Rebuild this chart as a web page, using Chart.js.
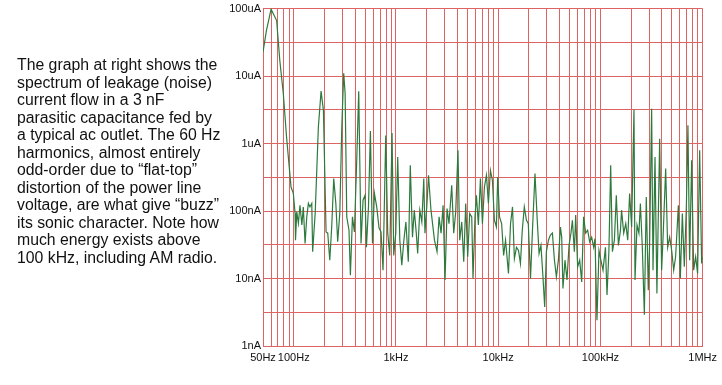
<!DOCTYPE html>
<html>
<head>
<meta charset="utf-8">
<script src="https://cdn.jsdelivr.net/npm/chart.js@4/dist/chart.umd.min.js"></script>
<style>
  html, body { margin: 0; padding: 0; background: #fff; }
  #wrap { position: relative; width: 722px; height: 385px; overflow: hidden; }
  #chart { position: absolute; left: 0; top: 0; }
  #note {
    position: absolute; left: 17px; top: 56px;
    font-family: "Liberation Sans", Arial, sans-serif;
    font-size: 15.8px; line-height: 17.5px; color: #111;
    white-space: nowrap;
  }
</style>
</head>
<body>
<div id="wrap">
  <canvas id="chart" width="722" height="385"></canvas>
  <div id="note">The graph at right shows the<br>spectrum of leakage (noise)<br>current flow in a 3 nF<br>parasitic capacitance fed by<br>a typical ac outlet. The 60 Hz<br>harmonics, almost entirely<br>odd-order due to “flat-top”<br>distortion of the power line<br>voltage, are what give “buzz”<br>its sonic character. Note how<br>much energy exists above<br>100 kHz, including AM radio.</div>
</div>
<script>
// frequency (Hz) and leakage current (nA)
const freqHz = [
  50, 54, 60, 68, 73, 79, 85, 94, 99, 103, 104, 107, 111, 115, 120, 124, 129, 134, 139, 144,
  150, 153, 162, 174, 185, 195, 207, 215, 225, 235, 246, 258, 269, 282, 295, 308, 318, 330, 347, 358,
  375, 392, 413, 432, 455, 476, 498, 514, 538, 562, 589, 615, 648, 683, 714, 747, 794, 830, 869, 915,
  951, 995, 1040, 1090, 1140, 1190, 1250, 1320, 1380, 1450, 1510, 1580, 1630, 1710, 1790, 1870, 1920, 2010, 2080, 2200,
  2380, 2520, 2640, 2760, 2890, 3020, 3160, 3300, 3510, 3670, 3840, 4040, 4200, 4400, 4600, 4810, 5030, 5260, 5510, 5670,
  5930, 6120, 6400, 6700, 7010, 7330, 7670, 8020, 8390, 8780, 9180, 9600, 9890, 10300, 10800, 11300, 11800, 12600, 13200, 13800,
  14400, 15100, 15800, 16500, 17200, 18000, 18900, 19700, 20700, 21600, 22900, 24000, 25100, 26200, 27400, 28500, 29600, 31000, 32400, 33900,
  35500, 37100, 38800, 40600, 41800, 43000, 45000, 47100, 49300, 51500, 53200, 55600, 57300, 59900, 62700, 65600, 68500, 71700, 75000, 78500,
  82100, 85900, 88500, 92500, 96800, 101000, 106000, 112000, 116000, 121000, 126000, 131000, 137000, 143000, 150000, 157000, 161000, 169000, 177000, 185000,
  193000, 202000, 213000, 218000, 228000, 238000, 246000, 257000, 269000, 281000, 294000, 303000, 317000, 327000, 342000, 357000, 380000, 397000, 409000, 435000,
  455000, 476000, 498000, 521000, 544000, 579000, 605000, 633000, 662000, 693000, 718000, 746000, 781000, 817000, 854000, 893000, 935000, 978000, 1000000
];
const currentNA = [
  22600, 47300, 98000, 66400, 17000, 5530, 1250, 227, 183, 93, 37, 97, 66, 122, 62, 115, 33, 82, 130, 115,
  130, 25, 93, 1750, 5980, 3100, 49, 47, 18.7, 58, 303, 129, 35, 93, 1750, 11000, 5530, 82, 52, 11.2,
  82, 49, 564, 5980, 33, 145, 171, 29, 115, 1530, 33, 183, 115, 56, 49, 13.3, 1320, 47, 22, 1430,
  22, 47, 631, 37, 15.8, 35, 69, 17.7, 476, 41, 103, 47, 23.5, 103, 69, 303, 47, 129, 339, 103,
  37, 25, 82, 47, 122, 9.5, 109, 65, 241, 47, 97, 793, 37, 69, 17.7, 129, 21, 92, 82, 10,
  82, 171, 62, 303, 65, 227, 339, 129, 402, 286, 73, 58, 319, 82, 65, 22, 37, 11.9, 65, 115,
  19.8, 29, 26, 16.7, 52, 115, 73, 65, 10, 49, 359, 82, 23.5, 31, 10.6, 3.8, 25, 37, 44, 47,
  18.7, 10.6, 18.7, 58, 41, 7.1, 18.7, 9.5, 31, 47, 73, 25, 87, 14.9, 18.7, 8.9, 82, 47, 52, 35,
  41, 29, 39, 2.4, 26, 18.7, 13.3, 29, 5.7, 25, 476, 25, 37, 171, 31, 52, 103, 47, 65, 37,
  182, 58, 3170, 9.5, 62, 47, 129, 29, 2.9, 162, 6.7, 33, 3280, 13.3, 631, 6.0, 1180, 13.3, 37, 425,
  29, 41, 26, 13.3, 21, 122, 10, 92, 14.9, 115, 1860, 18.7, 564, 13.3, 21, 11.9, 793, 16.7, 21
];

// axis labels
const xLabelValues = [50, 100, 1000, 10000, 100000, 1000000];
const xLabelText = ['50Hz', '100Hz', '1kHz', '10kHz', '100kHz', '1MHz'];
const yLabelValues = [1, 10, 100, 1000, 10000, 100000];
const yLabelText = ['1nA', '10nA', '100nA', '1uA', '10uA', '100uA'];

// grid: 1..9 per decade on x, half decades on y
const xGridSteps = [1, 2, 3, 4, 5, 6, 7, 8, 9];
const yGridSteps = [1, Math.sqrt(10)];

const xGrid = [];
for (let e = 1; e <= 6; e++) {
  xGridSteps.forEach(s => {
    const v = s * Math.pow(10, e);
    if (v >= 50 && v <= 1000000) xGrid.push(v);
  });
}
const yGrid = [];
for (let e = 0; e <= 5; e++) {
  yGridSteps.forEach(s => {
    const v = s * Math.pow(10, e);
    if (v <= 100000) yGrid.push(v);
  });
}

const gridColor = 'rgb(222, 100, 100)';
const tickFont = { family: '"Liberation Sans", Arial, sans-serif', size: 11 };

function labelFor(values, texts, v) {
  const i = values.findIndex(t => Math.abs(t - v) / t < 1e-6);
  return i >= 0 ? texts[i] : '';
}

new Chart(document.getElementById('chart'), {
  type: 'line',
  data: {
    datasets: [{
      data: freqHz.map((f, i) => ({ x: f, y: currentNA[i] })),
      borderColor: 'rgb(46, 122, 62)',
      borderWidth: 1.2,
      pointRadius: 0,
      tension: 0,
      fill: false
    }]
  },
  options: {
    responsive: false,
    animation: false,
    layout: { padding: { left: 0, top: 8, right: 19, bottom: 0 } },
    plugins: { legend: { display: false }, tooltip: { enabled: false } },
    scales: {
      x: {
        type: 'logarithmic',
        min: 50,
        max: 1000000,
        afterBuildTicks: axis => { axis.ticks = xGrid.map(v => ({ value: v })); },
        afterFit: axis => { axis.height = 39; },
        grid: { color: () => gridColor, lineWidth: 1, drawTicks: false },
        border: { color: gridColor },
        ticks: {
          autoSkip: false,
          maxRotation: 0,
          padding: 5,
          color: '#111',
          font: tickFont,
          callback: v => labelFor(xLabelValues, xLabelText, v)
        }
      },
      y: {
        type: 'logarithmic',
        min: 1,
        max: 100000,
        afterBuildTicks: axis => { axis.ticks = yGrid.map(v => ({ value: v })); },
        afterFit: axis => { axis.width = 263; },
        grid: { color: () => gridColor, lineWidth: 1, drawTicks: false },
        border: { color: gridColor },
        ticks: {
          autoSkip: false,
          padding: 2,
          color: '#111',
          font: tickFont,
          callback: v => labelFor(yLabelValues, yLabelText, v)
        }
      }
    }
  }
});
</script>
</body>
</html>
